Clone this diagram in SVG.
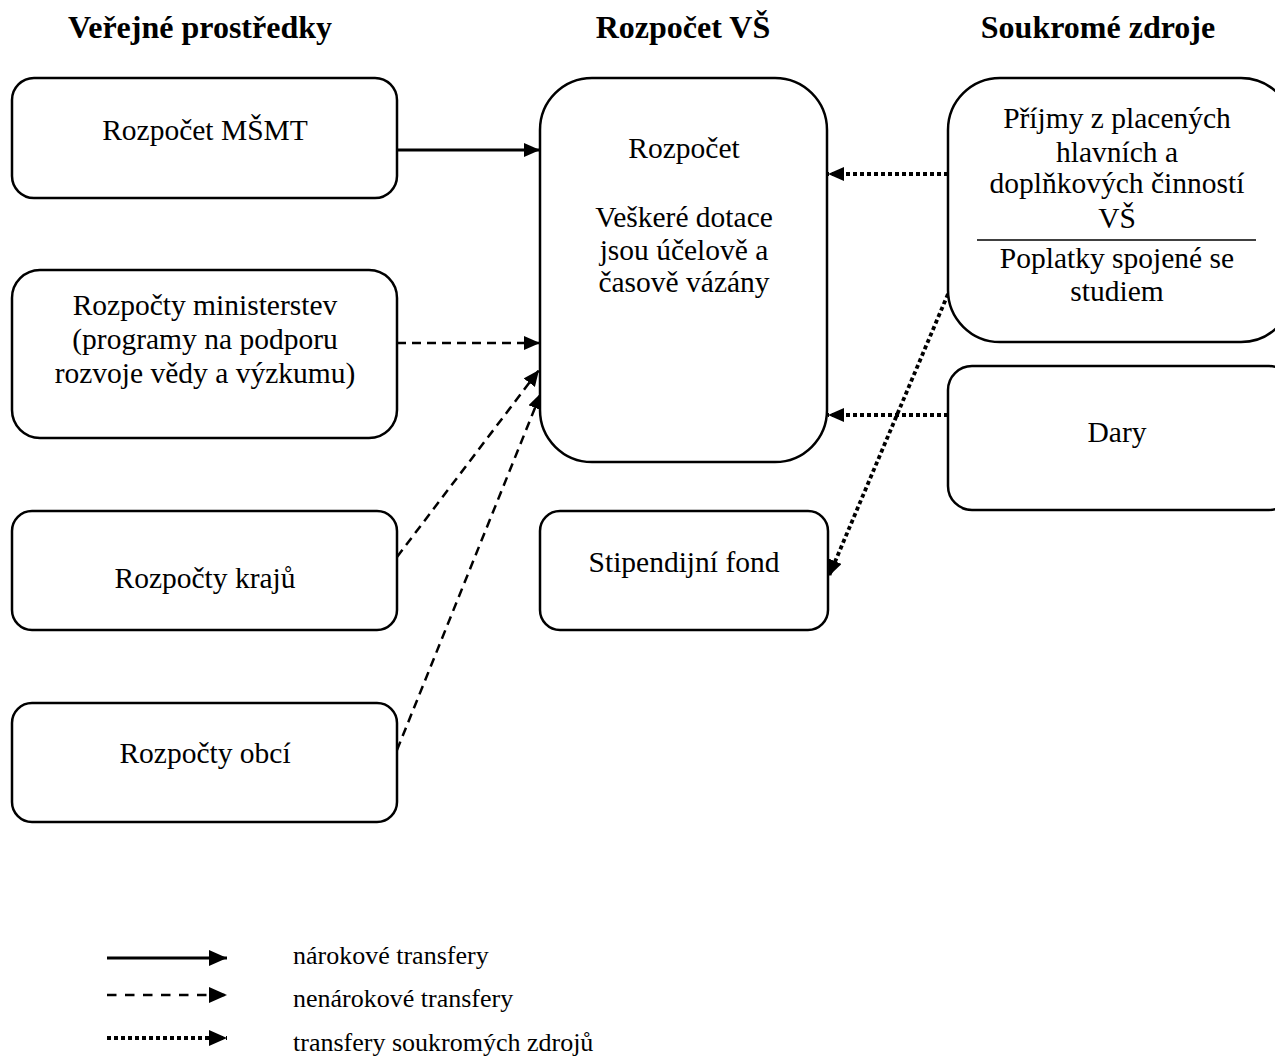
<svg xmlns="http://www.w3.org/2000/svg" width="1275" height="1059" viewBox="0 0 1275 1059">
<defs>
<style>
.box{fill:#fff;stroke:#000;stroke-width:2.5}
.t{font-family:"Liberation Serif","Times New Roman",serif;font-size:29.5px;fill:#000;text-anchor:middle}
.h{font-family:"Liberation Serif","Times New Roman",serif;font-size:32px;font-weight:bold;fill:#000;text-anchor:middle}
.lg{font-family:"Liberation Serif","Times New Roman",serif;font-size:26px;fill:#000}
.solid{fill:none;stroke:#000;stroke-width:3}
.dash{fill:none;stroke:#000;stroke-width:2.5;stroke-dasharray:9 6}
.dot{fill:none;stroke:#000;stroke-width:3.8;stroke-dasharray:4 3}
.ldash{fill:none;stroke:#000;stroke-width:2.5;stroke-dasharray:9.5 8.5}
</style>
<marker id="ah" markerUnits="userSpaceOnUse" markerWidth="18" markerHeight="16" refX="16" refY="7" orient="auto">
<path d="M0,0 L16,7 L0,14 Z" fill="#000"/>
</marker>
<marker id="lah" markerUnits="userSpaceOnUse" markerWidth="20" markerHeight="18" refX="18" refY="8" orient="auto">
<path d="M0,0 L18,8 L0,16 Z" fill="#000"/>
</marker>
</defs>
<rect width="1275" height="1059" fill="#fff"/>

<g id="headings">
<text class="h" x="200" y="38">Veřejné prostředky</text>
<text class="h" x="683" y="38">Rozpočet VŠ</text>
<text class="h" x="1098" y="38">Soukromé zdroje</text>
</g>

<g id="connectors">
<line class="solid" x1="397" y1="150" x2="540" y2="150" marker-end="url(#ah)"/>
<line class="dash" x1="397" y1="343" x2="540" y2="343" marker-end="url(#ah)"/>
<line class="dash" x1="397" y1="557" x2="539" y2="370" marker-end="url(#ah)"/>
<line class="dash" x1="397" y1="750" x2="541" y2="393" marker-end="url(#ah)"/>
<line class="dot" x1="948" y1="174" x2="828" y2="174" marker-end="url(#ah)"/>
<line class="dot" x1="948" y1="415" x2="828" y2="415" marker-end="url(#ah)"/>
<line class="dot" x1="948" y1="294" x2="829" y2="576" marker-end="url(#ah)"/>
</g>

<g id="n-msmt">
<rect class="box" x="12" y="78" width="385" height="120" rx="22"/>
<text class="t" x="205" y="140">Rozpočet MŠMT</text>
</g>
<g id="n-ministerstva">
<rect class="box" x="12" y="270" width="385" height="168" rx="28"/>
<text class="t" x="205" y="315">Rozpočty ministerstev</text>
<text class="t" x="205" y="349">(programy na podporu</text>
<text class="t" x="205" y="383">rozvoje vědy a výzkumu)</text>
</g>
<g id="n-kraje">
<rect class="box" x="12" y="511" width="385" height="119" rx="20"/>
<text class="t" x="205" y="588">Rozpočty krajů</text>
</g>
<g id="n-obce">
<rect class="box" x="12" y="703" width="385" height="119" rx="20"/>
<text class="t" x="205" y="763">Rozpočty obcí</text>
</g>
<g id="n-rozpocet">
<rect class="box" x="540" y="78" width="287" height="384" rx="52"/>
<text class="t" x="684" y="158">Rozpočet</text>
<text class="t" x="684" y="227">Veškeré dotace</text>
<text class="t" x="684" y="260">jsou účelově a</text>
<text class="t" x="684" y="292">časově vázány</text>
</g>
<g id="n-stipendia">
<rect class="box" x="540" y="511" width="288" height="119" rx="20"/>
<text class="t" x="684" y="572">Stipendijní fond</text>
</g>
<g id="n-prijmy">
<rect class="box" x="948" y="78" width="345" height="264" rx="52"/>
<text class="t" x="1117" y="128">Příjmy z placených</text>
<text class="t" x="1117" y="162">hlavních a</text>
<text class="t" x="1117" y="193">doplňkových činností</text>
<text class="t" x="1117" y="228">VŠ</text>
<line x1="977" y1="240" x2="1256" y2="240" stroke="#000" stroke-width="1.5"/>
<text class="t" x="1117" y="268">Poplatky spojené se</text>
<text class="t" x="1117" y="301">studiem</text>
</g>
<g id="n-dary">
<rect class="box" x="948" y="366" width="345" height="144" rx="24"/>
<text class="t" x="1117" y="442">Dary</text>
</g>

<g id="legend">
<line class="solid" x1="107" y1="958" x2="227" y2="958" marker-end="url(#lah)"/>
<line class="ldash" x1="107" y1="995" x2="227" y2="995" marker-end="url(#lah)"/>
<line class="dot" x1="107" y1="1038" x2="227" y2="1038" marker-end="url(#lah)"/>
<text class="lg" x="293" y="964">nárokové transfery</text>
<text class="lg" x="293" y="1007">nenárokové transfery</text>
<text class="lg" x="293" y="1051">transfery soukromých zdrojů</text>
</g>
</svg>
